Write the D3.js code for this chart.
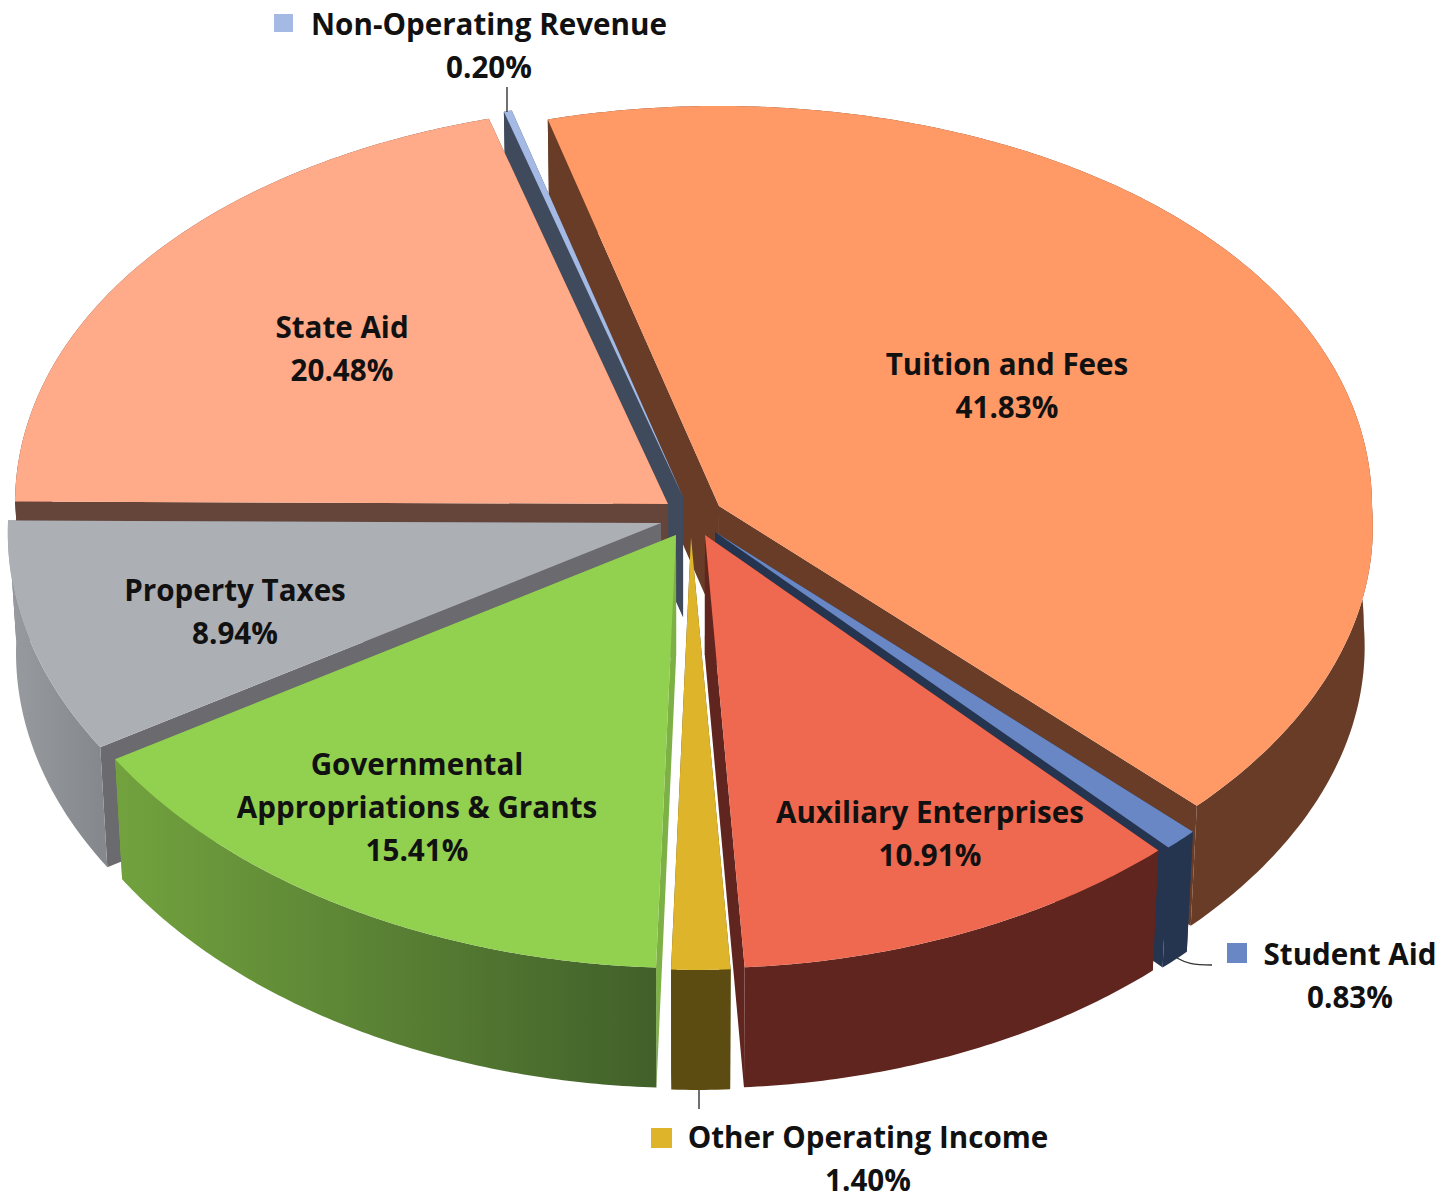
<!DOCTYPE html>
<html><head><meta charset="utf-8">
<script src="https://cdn.jsdelivr.net/npm/d3@7"></script>
<style>html,body{margin:0;padding:0;background:#fff}svg{display:block}
text{font-family:"Open Sans",sans-serif;font-weight:700;font-size:29.6px;fill:#111;text-anchor:middle}</style>
</head><body><svg id="c" width="1455" height="1199"></svg>
<script>
const categories=["Tuition and Fees","Student Aid","Auxiliary Enterprises","Other Operating Income","Governmental Appropriations & Grants","Property Taxes","State Aid","Non-Operating Revenue"];
const values=[41.83,0.83,10.91,1.40,15.41,8.94,20.48,0.20];
const topColors=["#FF9966","#6A87C5","#EE6950","#DEB42A","#92D050","#ACAFB4","#FFAA88","#A4B9E4"];
const wallStart=["#683C27","#26354F","#5F251E","#5C4C12","#72A23E","#989BA0","#65443A","#3F4A5D"];
const wallEnd=["#683C27","#26354F","#5F251E","#5C4C12","#41602A","#85888C","#65443A","#3F4A5D"];
const faceColors=["#683C27","#26354F","#5F251E","#5C4C12","#7DB045","#6A6A6F","#65443A","#3F4A5D"];
const apexX=[719,715,705,691,676,661,668,683];
const apexY=[506,532,535,537,535,523,504,497];
const paintOrder=[0,7,6,5,1,2,3,4];
const depth=120,rx=653,ryBack=400,ryGrow=33,frontWiden=0.042,frontSkew=12,tiltX=-6,tiltY=-10,shrink=0.988,midX=690;

const svg=d3.select("#c"),defs=svg.append("defs");
const arcs=d3.pie().sort(null).startAngle(-15.2*Math.PI/180).endAngle(344.8*Math.PI/180)(values);
const line=d3.line();
function rim(i,t){
  const f=-Math.cos(t),s=Math.sin(t),front=Math.max(0,f),tilt=Math.max(0,s)*front;
  return [apexX[i]+rx*s*(1+frontWiden*front)+frontSkew*front+tiltX*tilt,
          apexY[i]+(ryBack+ryGrow*(1+f)/2)*f+tiltY*tilt];
}
const low=p=>[midX+(p[0]-midX)*shrink,p[1]+depth];
function arcPts(i,a,b){const n=Math.max(2,Math.ceil(Math.abs(b-a)/0.01));return d3.range(n+1).map(k=>rim(i,a+(b-a)*k/n));}

paintOrder.forEach(i=>{
  const a=arcs[i],t0=a.startAngle,t1=a.endAngle,apex=[apexX[i],apexY[i]],g=svg.append("g");
  const pts=arcPts(i,t0,t1),xs=pts.map(p=>p[0]);
  const grad=defs.append("linearGradient").attr("id","w"+i).attr("gradientUnits","userSpaceOnUse")
    .attr("x1",d3.min(xs)).attr("x2",d3.max(xs)).attr("y1",0).attr("y2",0);
  grad.append("stop").attr("offset",0).attr("stop-color",wallStart[i]);
  grad.append("stop").attr("offset",1).attr("stop-color",wallEnd[i]);
  [t0,t1].forEach(t=>{const r=rim(i,t);
    g.append("path").attr("d",line([apex,r,low(r),low(apex)])+"Z").attr("fill",faceColors[i]);});
  g.append("path").attr("d",line(pts.concat(pts.map(low).reverse()))+"Z").attr("fill",`url(#w${i})`);
  g.append("path").attr("d",line([apex].concat(pts))+"Z").attr("fill",topColors[i]);
});

const labels=[
 [["Tuition and Fees","41.83%"],1007,375],
 [["Student Aid","0.83%"],1350,965],
 [["Auxiliary Enterprises","10.91%"],930,823],
 [["Other Operating Income","1.40%"],868,1148],
 [["Governmental","Appropriations & Grants","15.41%"],417,775],
 [["Property Taxes","8.94%"],235,601],
 [["State Aid","20.48%"],342,338],
 [["Non-Operating Revenue","0.20%"],489,35]];
labels.forEach(([ls,x,y])=>ls.forEach((s,k)=>svg.append("text").attr("x",x).attr("y",y+k*43).text(s)));

[[1,1227,943,20,20],[3,651,1128,21,20],[7,274,14,19,18]].forEach(([i,x,y,w,h])=>
  svg.append("rect").attr("x",x).attr("y",y).attr("width",w).attr("height",h).attr("fill",topColors[i]));
["M507,87V112","M699,1090V1109","M1177,958C1186,963 1192,965 1212,965"].forEach(d=>
  svg.append("path").attr("d",d).attr("fill","none").attr("stroke","#333").attr("stroke-width",1.4));
</script></body></html>
